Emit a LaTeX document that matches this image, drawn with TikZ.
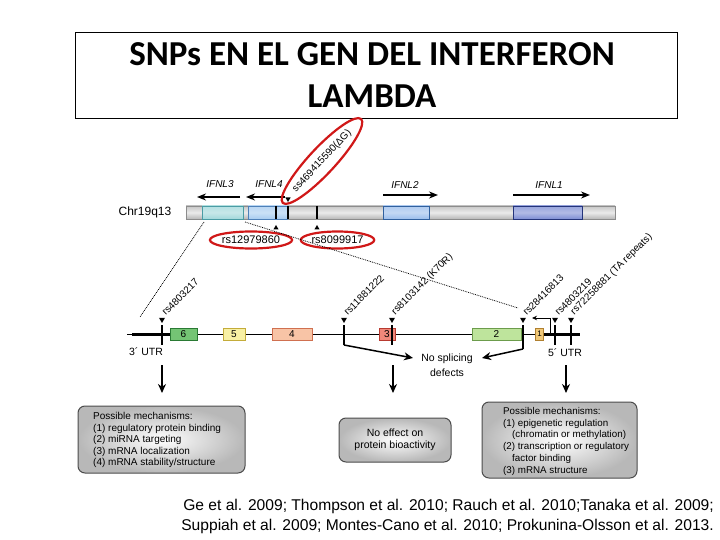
\documentclass[tikz,border=0pt]{standalone}
\usepackage{fontspec}
\setmainfont{Liberation Sans}
\newfontfamily\titlefont{Carlito}
\usetikzlibrary{arrows.meta,shapes.geometric,calc}
\definecolor{redring}{HTML}{D01818}
\definecolor{cyanf}{HTML}{A2D8DA}\definecolor{cyand}{HTML}{4A9CA4}
\definecolor{bluef}{HTML}{A8CCF0}\definecolor{blued}{HTML}{4E80B8}
\definecolor{blue2f}{HTML}{9CBEEC}\definecolor{blue2d}{HTML}{30609E}
\definecolor{blue1f}{HTML}{7E8ED4}\definecolor{blue1d}{HTML}{24347A}
\definecolor{ex6f}{HTML}{74C474}\definecolor{ex6d}{HTML}{2A7A34}
\definecolor{ex5f}{HTML}{F8F0A4}\definecolor{ex5d}{HTML}{C4AC3A}
\definecolor{ex4f}{HTML}{F8C4A6}\definecolor{ex4d}{HTML}{D07050}
\definecolor{ex3f}{HTML}{F0887A}\definecolor{ex3d}{HTML}{B83A30}
\definecolor{ex2f}{HTML}{BEE49C}\definecolor{ex2d}{HTML}{6C9C4C}
\definecolor{ex1f}{HTML}{F0C878}\definecolor{ex1d}{HTML}{B08030}
\begin{document}
\begin{tikzpicture}[x=1pt,y=-1pt,
  genelab/.style={font=\fontsize{10}{10}\selectfont\itshape, inner sep=0pt},
  snplab/.style={font=\fontsize{10}{10}\selectfont, rotate=45, anchor=west, inner sep=0.5pt},
  snpdown/.style={fill=black, regular polygon, regular polygon sides=3, shape border rotate=180, inner sep=0pt, minimum size=7pt},
  snpup/.style={fill=black, regular polygon, regular polygon sides=3, inner sep=0pt, minimum size=7pt},
  genebox/.style={draw, line width=0.8pt, minimum height=13pt, inner sep=0pt},
  exon/.style={draw, line width=0.8pt, minimum height=12pt, inner sep=0pt, font=\fontsize{10}{10}\selectfont},
  redell/.style={ellipse, draw=redring, line width=2.2pt, inner sep=0pt},
  mechbox/.style={rounded corners=7pt, draw=black!70, line width=1pt, inner color=white, outer color=black!28},
  bigarrow/.style={-{Stealth[length=9pt,width=8pt]}, line width=1.5pt},
  dirarrow/.style={-{Stealth[length=9pt,width=7pt]}, line width=1.5pt},
  proj/.style={densely dotted, line width=0.8pt},
  tick/.style={line width=1.3pt},
  boxtext/.style={align=left, inner sep=0pt, anchor=north west}
]
\useasboundingbox (0,0) rectangle (720,540);

% title
\node[draw, line width=0.8pt, minimum width=602, minimum height=86, inner sep=0pt] (title) at (376,75) {};
\node[font=\titlefont\bfseries\fontsize{35}{42}\selectfont, align=center] (titletext) at (372,75) {SNPs EN EL GEN DEL INTERFERON\\LAMBDA};

% chromosome
\node[font=\fontsize{12}{12}\selectfont] (chrlab) at (145,212) {Chr19q13};
\node[genebox, draw=black!45, minimum width=429, top color=black!22, bottom color=black!28, middle color=black!8] (chr) at (400.5,212.5) {};
\node[genebox, draw=cyand, minimum width=41, top color=cyanf!80, bottom color=cyanf, middle color=cyanf!60] (ifnl3) at (222.5,212.5) {};
\node[genebox, draw=blued, minimum width=39, top color=bluef!80, bottom color=bluef, middle color=bluef!60] (ifnl4) at (267.5,212.5) {};
\node[genebox, draw=blue2d, minimum width=46, top color=blue2f!80, bottom color=blue2f, middle color=blue2f!60] (ifnl2) at (406,212.5) {};
\node[genebox, draw=blue1d, minimum width=69, top color=blue1f!80, bottom color=blue1f, middle color=blue1f!60] (ifnl1) at (547.5,212.5) {};
\draw[tick] (276,206) -- (276,219);
\draw[tick] (288,206) -- (288,219);
\draw[tick] (317,206) -- (317,219);

% gene direction arrows and labels
\node[genelab] (l3) at (220,184) {IFNL3};
\node[genelab] (l4) at (269,184) {IFNL4};
\node[genelab] (l2) at (405,185) {IFNL2};
\node[genelab] (l1) at (549,185) {IFNL1};
\coordinate (a3s) at (240,197); \coordinate (a3e) at (197,197);
\coordinate (a4s) at (285,197); \coordinate (a4e) at (246,197);
\coordinate (a2s) at (383,195); \coordinate (a2e) at (438,195);
\coordinate (a1s) at (513,195); \coordinate (a1e) at (590,195);
\draw[dirarrow] (a3s) -- (a3e);
\draw[dirarrow] (a4s) -- (a4e);
\draw[dirarrow] (a2s) -- (a2e);
\draw[dirarrow] (a1s) -- (a1e);

% SNPs on chromosome
\node[snpdown, minimum size=6pt] (m0) at (288,199) {};
\node[redell, rotate=47, minimum width=96, minimum height=26, font=\fontsize{10}{10}\selectfont] (ss) at (322,161) {ss469415590(ΔG)};
\node[snpup, minimum size=6pt] (m1) at (276,228) {};
\node[snpup, minimum size=6pt] (m2) at (317,228) {};
\node[redell, minimum width=66, minimum height=17, font=\fontsize{11}{11}\selectfont] (r1) at (251,240) {rs12979860};
\node[redell, minimum width=70, minimum height=17, font=\fontsize{11}{11}\selectfont] (r2) at (337.5,240) {rs8099917};

% projection lines
\coordinate (pl1) at (204,222); \coordinate (pl2) at (140,317);
\coordinate (pr1) at (245,222); \coordinate (pr2) at (518,308);
\draw[proj] (pl1) -- (pl2);
\draw[proj] (pr1) -- (pr2);

% expanded gene
\coordinate (g0) at (127,334); \coordinate (gu) at (132,334); \coordinate (g9) at (580,334);
\draw[line width=0.8pt] (g0) -- (g9);
\node[exon, draw=ex6d, fill=ex6f, minimum width=27] (e6) at (183.5,334) {6};
\node[exon, draw=ex5d, fill=ex5f, minimum width=22] (e5) at (234,334) {5};
\node[exon, draw=ex4d, fill=ex4f, minimum width=40] (e4) at (292,334) {4};
\node[exon, draw=ex3d, fill=ex3f, minimum width=16] (e3) at (387,334) {3};
\node[exon, draw=ex2d, fill=ex2f, minimum width=49] (e2) at (496.5,334) {2};
\node[exon, draw=ex1d, fill=ex1f, minimum width=8, font=\fontsize{8}{8}\selectfont] (e1) at (539.5,334) {1};
\draw[line width=3pt] (gu) -- (e6.west);
\draw[line width=3pt] (e1.east) -- (g9);

% SNP ticks in expanded gene
\foreach \x/\n in {162/a,344/b,392/c,523/d,555/e,571/f}{
  \draw[tick] (\x,325) -- (\x,345);
  \node[snpdown] (s\n) at (\x,319.5) {};
}
\node[snplab] at (163,314) {rs4803217};
\node[snplab] at (345,314) {rs11881222};
\node[snplab] at (393,314) {rs8103142 (K70R)};
\node[snplab] at (524,314) {rs28416813};
\node[snplab] at (556,314) {rs4803219};
\node[snplab] at (572,314) {rs72258881 (TA repeats)};

% transcription start
\coordinate (ts0) at (550,334); \coordinate (ts1) at (550,318); \coordinate (ts2) at (532,318);
\draw[line width=0.8pt, -{Stealth[length=5pt,width=4.5pt]}] (ts0) -- (ts1) -- (ts2);

\node[font=\fontsize{10.5}{10.5}\selectfont] (utr3) at (146,352) {3´ UTR};
\node[font=\fontsize{10.5}{10.5}\selectfont] (utr5) at (565,353) {5´ UTR};

% no splicing defects
\node[font=\fontsize{10.5}{15}\selectfont, align=center] (nsd) at (447,365) {No splicing\\defects};
\coordinate (sb) at (344,345); \coordinate (sbe) at (413,358);
\coordinate (sd) at (523,349); \coordinate (sde) at (482,358);
\draw[line width=1.5pt] (344,334) -- (sb);
\draw[tick] (523,334) -- (sd);
\draw[bigarrow] (sb) -- (sbe);
\draw[bigarrow] (sd) -- (sde);

% down arrows
\coordinate (d1s) at (162,365); \coordinate (d1e) at (162,393);
\coordinate (d2s) at (393,365); \coordinate (d2e) at (393,393);
\coordinate (d3s) at (566,365); \coordinate (d3e) at (566,393);
\draw[bigarrow] (d1s) -- (d1e);
\draw[bigarrow] (d2s) -- (d2e);
\draw[bigarrow] (d3s) -- (d3e);

% mechanism boxes
\node[mechbox, minimum width=167, minimum height=67] (box1) at (161.5,439.5) {};
\node[boxtext, font=\fontsize{10}{11.4}\selectfont] (t1) at (93,412.5) {Possible mechanisms:\\(1) regulatory protein binding\\(2) miRNA targeting\\(3) mRNA localization\\(4) mRNA stability/structure};
\node[mechbox, minimum width=112, minimum height=44, font=\fontsize{10.5}{11.5}\selectfont, align=center] (box2) at (395,440) {No effect on\\protein bioactivity};
\node[mechbox, minimum width=155, minimum height=76] (box3) at (559.5,440) {};
\node[boxtext, font=\fontsize{9.8}{11.8}\selectfont] (t3) at (503,407) {Possible mechanisms:\\(1) epigenetic regulation\\\hspace*{9pt}(chromatin or methylation)\\(2) transcription or regulatory\\\hspace*{9pt}factor binding\\(3) mRNA structure};

% citation
\node[font=\fontsize{15.6}{20}\selectfont, align=right, anchor=east, inner sep=0pt] (cite) at (714,516) {Ge et al. 2009; Thompson et al. 2010; Rauch et al. 2010;Tanaka et al. 2009;\\Suppiah et al. 2009; Montes-Cano et al. 2010; Prokunina-Olsson et al. 2013.};
\end{tikzpicture}
\end{document}
